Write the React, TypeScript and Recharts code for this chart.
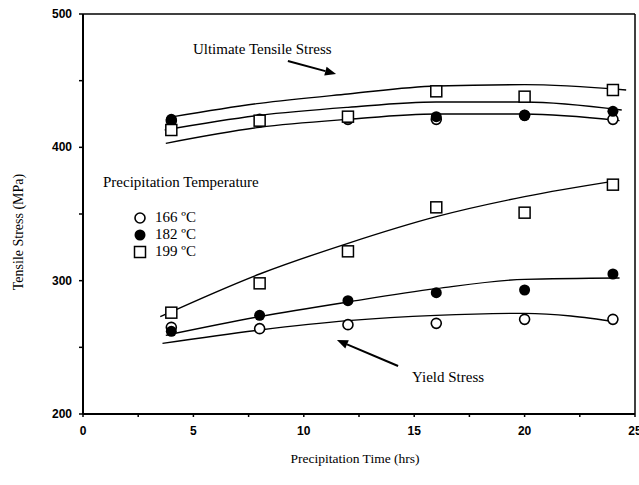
import React from 'react';
import {
  ComposedChart, Scatter, Line, XAxis, YAxis, ReferenceLine, ReferenceDot, Legend,
} from 'recharts';

// measured points (hrs vs MPa)
const times = [4, 8, 12, 16, 20, 24];
const uts166 = [420, 421, 421, 421, 424, 421];
const uts182 = [421, 419, 422, 423, 424, 427];
const uts199 = [413, 420, 423, 442, 438, 443];
const ys166 = [265, 264, 267, 268, 271, 271];
const ys182 = [262, 274, 285, 291, 293, 305];
const ys199 = [276, 298, 322, 355, 351, 372];

// fitted curves
const fitUts166X = [3.75, 8, 12, 16, 20, 24.3];
const fitUts166Y = [403, 415, 421, 425, 425, 420];
const fitUts182X = [3.7, 8, 12, 16, 20, 24.4];
const fitUts182Y = [413, 424, 430, 434, 434, 428];
const fitUts199X = [4.1, 8, 12, 16, 20, 24.6];
const fitUts199Y = [423, 433, 440, 446, 447, 443];
const fitYs166X = [3.6, 8, 12, 16, 20, 24.2];
const fitYs166Y = [253, 263, 270, 274, 275.5, 269];
const fitYs182X = [3.75, 8, 12, 16, 20, 24.3];
const fitYs182Y = [259, 273, 284, 294, 301, 302];
const fitYs199X = [3.5, 8, 12, 16, 20, 24.2];
const fitYs199Y = [273, 305, 328, 348, 363, 375];

const xTicks = [0, 2.5, 5, 7.5, 10, 12.5, 15, 17.5, 20, 22.5, 25];
const yTicks = [200, 250, 300, 350, 400, 450, 500];
const tempLabels = ['166 ºC', '182 ºC', '199 ºC'];

const serif = '"Liberation Serif", "Times New Roman", serif';
const sans = '"Liberation Sans", Arial, sans-serif';

const pts = (xs: number[], ys: number[]) => xs.map((x, i) => ({ x, y: ys[i] }));

const HollowCircle = (p: any) => (
  <circle cx={p.cx} cy={p.cy} r={5} fill="#fff" stroke="#000" strokeWidth={1.6} />
);
const FilledCircle = (p: any) => <circle cx={p.cx} cy={p.cy} r={5.5} fill="#000" />;
const Square = (p: any) => (
  <rect x={p.cx - 5.5} y={p.cy - 5.5} width={11} height={11} fill="#fff" stroke="#000" strokeWidth={1.5} />
);

const shapes = [HollowCircle, FilledCircle, Square];

const arrow = (p: any) => {
  const { x1, y1, x2, y2 } = p;
  const a = Math.atan2(y2 - y1, x2 - x1);
  const L = 11, W = 4.5;
  const bx = x2 - L * Math.cos(a), by = y2 - L * Math.sin(a);
  const px = -Math.sin(a) * W, py = Math.cos(a) * W;
  return (
    <g>
      <line x1={x1} y1={y1} x2={bx} y2={by} stroke="#000" strokeWidth={2} />
      <polygon points={`${x2},${y2} ${bx + px},${by + py} ${bx - px},${by - py}`} fill="#000" />
    </g>
  );
};

const note = (txt: string) => (p: any) => (
  <text x={p.cx} y={p.cy} fontFamily={serif} fontSize={15} dominantBaseline="central" fill="#000">
    {txt}
  </text>
);

const XTick = (p: any) => {
  const v = p.payload.value;
  if (v % 5 !== 0) return <g />;
  return (
    <text x={p.x} y={p.y + 16} textAnchor="middle" fontFamily={sans} fontWeight="bold" fontSize={12} fill="#000">
      {v}
    </text>
  );
};

const YTick = (p: any) => {
  const v = p.payload.value;
  if (v % 100 !== 0) return <g />;
  return (
    <text x={p.x - 4} y={p.y + 4} textAnchor="end" fontFamily={sans} fontWeight="bold" fontSize={12} fill="#000">
      {v}
    </text>
  );
};

const LegendBox = () => (
  <div style={{ fontFamily: serif, fontSize: 15, color: '#000' }}>
    <div style={{ paddingLeft: 3, lineHeight: '16px' }}>Precipitation Temperature</div>
    <div style={{ marginTop: 19 }}>
      {tempLabels.map((t, i) => {
        const S = shapes[i];
        return (
          <div key={t} style={{ display: 'flex', alignItems: 'center', height: 17 }}>
            <svg width={14} height={14} style={{ marginLeft: 33, marginRight: 8 }}>
              <S cx={7} cy={7} />
            </svg>
            <span>{t}</span>
          </div>
        );
      })}
    </div>
  </div>
);

export default function App() {
  const points = [
    pts(times, uts166), pts(times, uts182), pts(times, uts199),
    pts(times, ys166), pts(times, ys182), pts(times, ys199),
  ];
  const fits = [
    pts(fitUts166X, fitUts166Y), pts(fitUts182X, fitUts182Y), pts(fitUts199X, fitUts199Y),
    pts(fitYs166X, fitYs166Y), pts(fitYs182X, fitYs182Y), pts(fitYs199X, fitYs199Y),
  ];

  return (
    <div style={{ position: 'absolute', left: 0, top: 0, width: 639, height: 485, background: '#fff' }}>
      <ComposedChart width={639} height={485} margin={{ top: 14, right: 4, left: 0, bottom: 0 }}>
        <XAxis
          type="number"
          dataKey="x"
          domain={[0, 25]}
          ticks={xTicks}
          interval={0}
          height={71}
          axisLine={{ stroke: '#000', strokeWidth: 2 }}
          tickLine={{ stroke: '#000', strokeWidth: 1.5 }}
          tickSize={3}
          tick={<XTick />}
          label={(lp: any) => {
            const vb = lp.viewBox;
            return (
              <text x={vb.x + vb.width / 2 - 4} y={463} textAnchor="middle" fontFamily={serif} fontSize={13.5} fill="#000">
                Precipitation Time (hrs)
              </text>
            );
          }}
        />
        <YAxis
          type="number"
          dataKey="y"
          domain={[200, 500]}
          ticks={yTicks}
          interval={0}
          width={83}
          axisLine={{ stroke: '#000', strokeWidth: 2 }}
          tickLine={{ stroke: '#000', strokeWidth: 1.5 }}
          tickSize={4}
          tickMargin={3}
          tick={<YTick />}
          label={(lp: any) => {
            const vb = lp.viewBox;
            const cy = vb.y + vb.height / 2 + 18;
            return (
              <text x={18} y={cy} transform={`rotate(-90 18 ${cy})`} textAnchor="middle" dominantBaseline="central"
                fontFamily={serif} fontSize={14} fill="#000">
                Tensile Stress (MPa)
              </text>
            );
          }}
        />
        <ReferenceLine y={500} stroke="#000" strokeWidth={1.5} />
        <ReferenceLine x={25} stroke="#000" strokeWidth={1.5} />
        {fits.map((d, i) => (
          <Line key={'f' + i} data={d} dataKey="y" type="monotone" stroke="#000" strokeWidth={1.4}
            dot={false} activeDot={false} isAnimationActive={false} legendType="none" />
        ))}
        {points.map((d, i) => (
          <Scatter key={'s' + i} data={d} shape={shapes[i % 3]} isAnimationActive={false} legendType="none" />
        ))}
        <ReferenceDot x={4.98} y={473.8} r={0} shape={note('Ultimate Tensile Stress')} />
        <ReferenceDot x={14.9} y={227.8} r={0} shape={note('Yield Stress')} />
        <ReferenceLine segment={[{ x: 9.28, y: 464.8 }, { x: 11.46, y: 455 }]} shape={arrow} />
        <ReferenceLine segment={[{ x: 14.27, y: 236 }, { x: 11.5, y: 255.5 }]} shape={arrow} />
        <Legend
          layout="horizontal"
          align="center"
          verticalAlign="middle"
          content={() => <LegendBox />}
          wrapperStyle={{ left: 100, top: 174, width: 220 }}
        />
      </ComposedChart>
    </div>
  );
}
